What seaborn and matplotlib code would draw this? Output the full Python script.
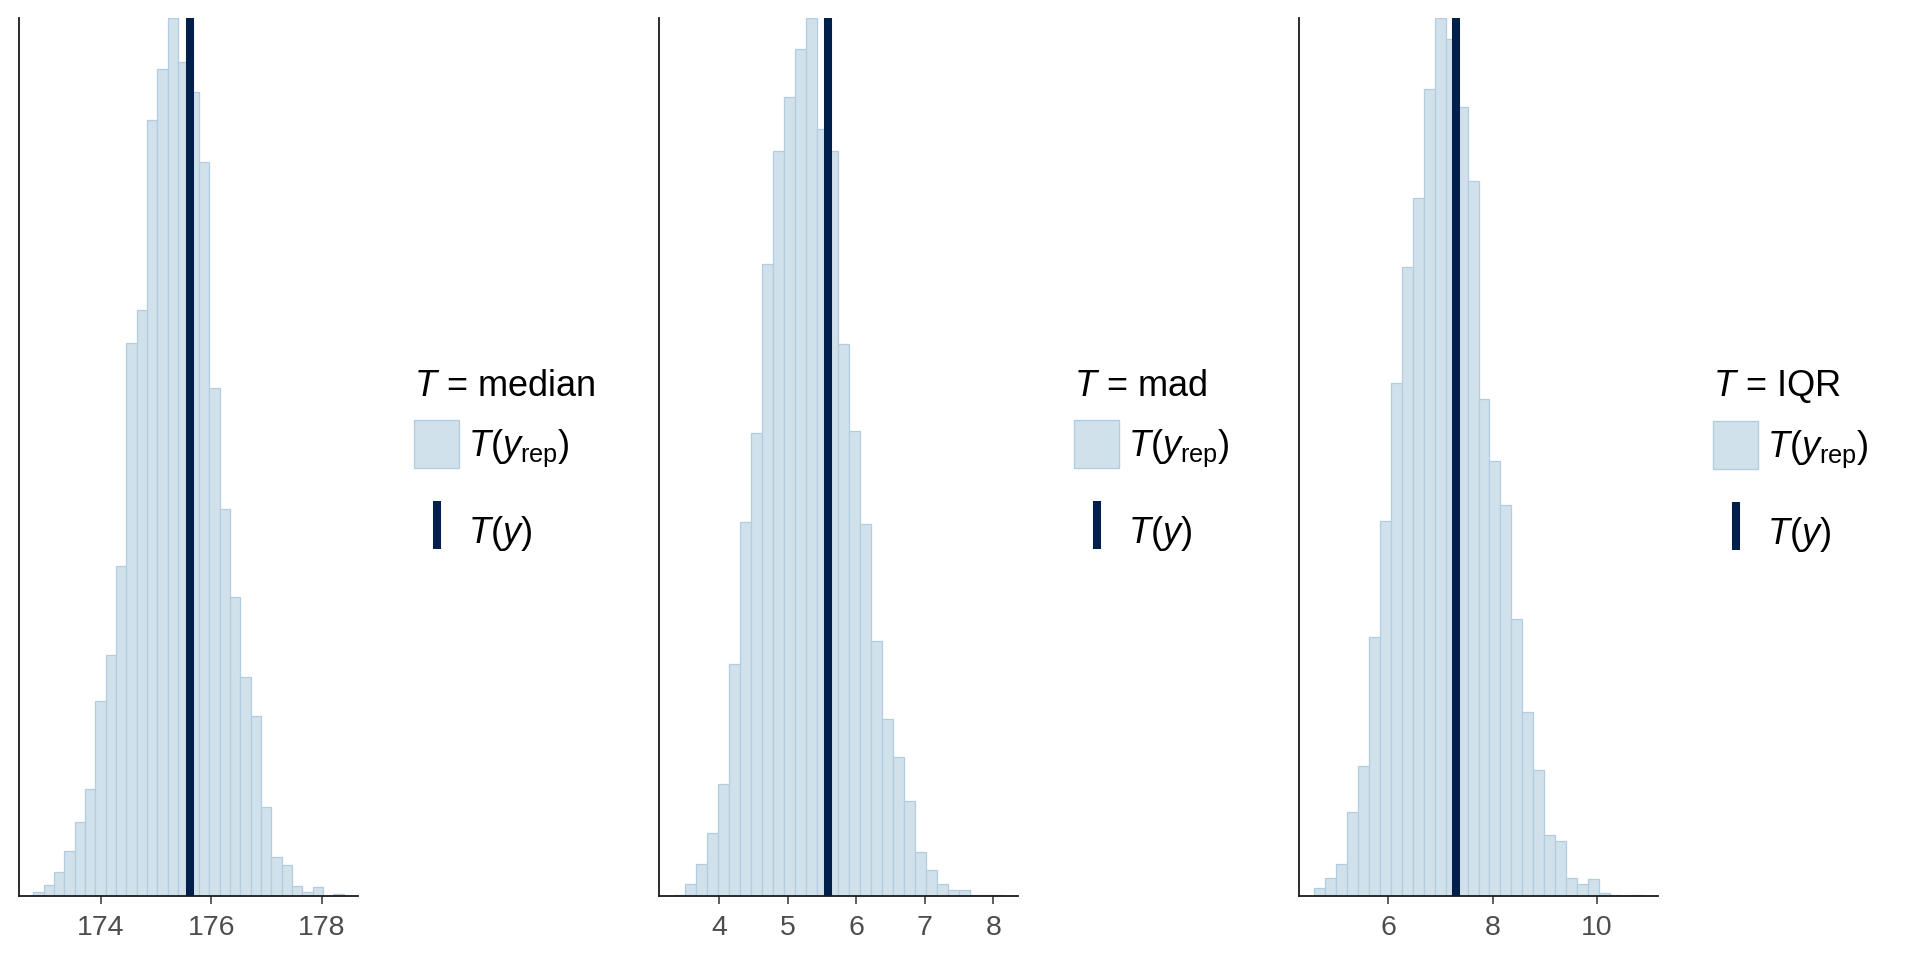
import seaborn as sns
import matplotlib.pyplot as plt
import numpy as np
import pandas as pd
from matplotlib.patches import Patch
from matplotlib.lines import Line2D

# posterior predictive check: T(y_rep) histograms, 30 bins each
stat_names = ["median", "mad", "IQR"]

median_edges = (172.78, 178.39)
median_counts = [7, 18, 39, 73, 120, 175, 318, 393, 538, 900, 954, 1264, 1347, 1430, 1358,
                 1310, 1195, 828, 631, 487, 357, 293, 145, 63, 51, 17, 6, 14, 0, 3]
median_obs = 175.605

mad_edges = (3.343, 8.138)
mad_counts = [1, 20, 52, 103, 183, 378, 609, 754, 1029, 1214, 1302, 1380, 1430, 1250, 1214,
              899, 758, 606, 415, 288, 226, 154, 71, 42, 20, 10, 10, 2, 1, 1]
mad_obs = 5.585

iqr_edges = (4.579, 10.877)
iqr_counts = [13, 30, 52, 136, 212, 422, 611, 835, 1024, 1137, 1315, 1430, 1395, 1285, 1165,
              810, 709, 637, 451, 299, 205, 99, 89, 30, 19, 27, 5, 1, 0, 1]
iqr_obs = 7.293

xlims = [(172.52, 178.65), (3.119, 8.362), (4.285, 11.171)]
xticks = [[174, 176, 178], [4, 5, 6, 7, 8], [6, 8, 10]]

panels = [
    (median_edges, median_counts, median_obs),
    (mad_edges, mad_counts, mad_obs),
    (iqr_edges, iqr_counts, iqr_obs),
]

light = "#d1e1ec"
light_hl = "#b3cde0"
dark = "#011f4b"

sns.set_theme(style="white")
plt.rcParams['font.family'] = ['Liberation Sans', 'DejaVu Sans']
plt.rcParams['mathtext.fontset'] = 'custom'
plt.rcParams['mathtext.it'] = 'Liberation Sans:italic'
plt.rcParams['mathtext.rm'] = 'Liberation Sans'
plt.rcParams['text.color'] = 'black'

fig = plt.figure(figsize=(19.2, 9.6), dpi=100)

W, H = 1920, 960
ax_left = [19, 659, 1299]
ax_width = [339, 359, 359]
leg_left = [414, 1074, 1713]
top, bottom = 18, 896

for i, (edges, counts, obs) in enumerate(panels):
    ax = fig.add_axes([ax_left[i] / W, 1 - bottom / H, ax_width[i] / W, (bottom - top) / H])
    nb = len(counts)
    step = (edges[1] - edges[0]) / nb
    df = pd.DataFrame({"value": edges[0] + step * (np.arange(nb) + 0.5), "count": counts})
    sns.histplot(data=df, x="value", weights="count", bins=nb, binrange=edges, ax=ax,
                 color=light, edgecolor=light_hl, linewidth=0.9, alpha=1)
    ax.axvline(obs, color=dark, lw=5.8)
    ax.set_xlim(*xlims[i])
    ax.set_ylim(0, max(counts))
    ax.set_xticks(xticks[i])
    ax.set_yticks([])
    ax.set_xlabel("")
    ax.set_ylabel("")
    for s in ["top", "right"]:
        ax.spines[s].set_visible(False)
    for s in ["left", "bottom"]:
        ax.spines[s].set_color("#1a1a1a")
        ax.spines[s].set_linewidth(1.3)
    ax.tick_params(axis="x", bottom=True, length=6, width=1.1, color="#333333",
                   labelsize=20.5, labelcolor="#4d4d4d", pad=7.5)

    handles = [
        Patch(facecolor=light, edgecolor=light_hl, linewidth=1),
        Line2D([], [], color=dark, marker="|", markersize=34.5, markeredgewidth=5.8,
               linestyle="none"),
    ]
    leg = ax.legend(handles, [r"$T(y_{\mathrm{rep}})$", r"$T(y)$"],
                    title=r"$T$ = " + stat_names[i], alignment="left",
                    loc="center left", bbox_to_anchor=(leg_left[i] / W, 1 - 462 / H),
                    bbox_transform=fig.transFigure, frameon=False, fontsize=26,
                    title_fontsize=26, labelcolor="black", borderpad=0, borderaxespad=0,
                    handlelength=1.25, handleheight=1.67, handletextpad=0.25,
                    labelspacing=1.05)
    # tighter gap between title and the entries
    leg._legend_box.sep = 11.5

fig.savefig("out.png", dpi=100)
